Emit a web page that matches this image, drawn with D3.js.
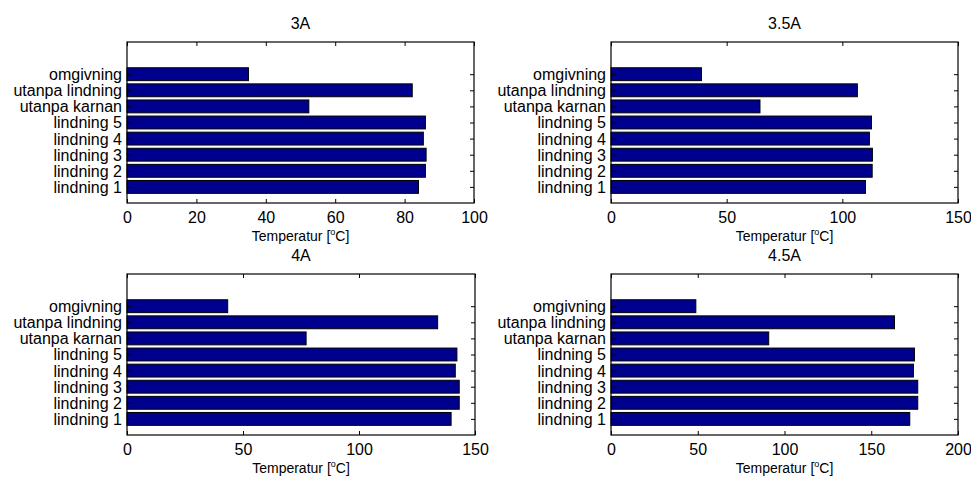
<!DOCTYPE html>
<html>
<head>
<meta charset="utf-8">
<script src="https://cdn.jsdelivr.net/npm/d3@7"></script>
<style>
  body { margin: 0; background: #fff; }
  svg { font-family: "Liberation Sans", Arial, Helvetica, sans-serif; }
</style>
</head>
<body>
<div id="chart"></div>
<script>
// categories (bottom to top) and temperatures
const categories = ["lindning 1", "lindning 2", "lindning 3", "lindning 4", "lindning 5",
                    "utanpa karnan", "utanpa lindning", "omgivning"];
const temp3A  = [84.0, 86.0, 86.2, 85.4, 86.0, 52.4, 82.2, 35.0];
const temp35A = [110.0, 112.9, 113.0, 111.7, 112.6, 64.4, 106.5, 39.1];
const temp4A  = [139.7, 143.2, 143.2, 141.5, 142.2, 77.2, 133.9, 43.4];
const temp45A = [172.2, 176.8, 176.8, 174.3, 174.9, 90.9, 163.4, 48.9];

const titles = ["3A", "3.5A", "4A", "4.5A"];
const xMax = [100, 150, 150, 200];
const xTicks = [[0, 20, 40, 60, 80, 100], [0, 50, 100, 150], [0, 50, 100, 150], [0, 50, 100, 150, 200]];
const series = [temp3A, temp35A, temp4A, temp45A];

// panel boxes
const panels = [
  {left: 127, right: 474, top: 42, bottom: 203},
  {left: 611, right: 958, top: 42, bottom: 203},
  {left: 127, right: 475, top: 274, bottom: 435},
  {left: 611, right: 958, top: 274, bottom: 435}
];

const svg = d3.select("#chart")
  .append("svg")
  .attr("width", 971)
  .attr("height", 479);

panels.forEach((p, k) => {
  const w = p.right - p.left;
  const h = p.bottom - p.top;
  const g = svg.append("g").attr("transform", `translate(${p.left},${p.top})`);

  const x = d3.scaleLinear().domain([0, xMax[k]]).range([0, w]);
  const y = d3.scaleLinear().domain([0, 10]).range([h, 0]);
  const barH = y(0) - y(0.8);

  const data = categories.map((c, i) => ({name: c, pos: i + 1, value: series[k][i]}));

  // bars
  g.selectAll("rect.bar")
    .data(data)
    .join("rect")
    .attr("class", "bar")
    .attr("x", x(0))
    .attr("y", d => y(d.pos) - barH / 2)
    .attr("width", d => x(d.value) - x(0))
    .attr("height", barH)
    .attr("fill", "#00008f")
    .attr("stroke", "#000")
    .attr("stroke-width", 1);

  // box
  g.append("rect")
    .attr("x", 0).attr("y", 0)
    .attr("width", w).attr("height", h)
    .attr("fill", "none")
    .attr("stroke", "#000")
    .attr("stroke-width", 1.2);

  const fontSize = "16px";

  // bottom axis with labels
  const xb = g.append("g")
    .attr("transform", `translate(0,${h})`)
    .call(d3.axisBottom(x).tickValues(xTicks[k]).tickSize(-4).tickSizeOuter(0).tickPadding(8.5));
  // top ticks only
  const xt = g.append("g")
    .call(d3.axisTop(x).tickValues(xTicks[k]).tickSize(-4).tickSizeOuter(0).tickFormat(""));
  // left axis with category names
  const yl = g.append("g")
    .call(d3.axisLeft(y).tickValues(data.map(d => d.pos)).tickSize(-4).tickSizeOuter(0).tickPadding(5)
      .tickFormat(v => categories[v - 1]));
  // right ticks only
  const yr = g.append("g")
    .attr("transform", `translate(${w},0)`)
    .call(d3.axisRight(y).tickValues(data.map(d => d.pos)).tickSize(-4).tickSizeOuter(0).tickFormat(""));

  [xb, xt, yl, yr].forEach(a => {
    a.select(".domain").remove();
    a.selectAll("line").attr("stroke", "#000");
    a.selectAll("text").attr("fill", "#000").attr("font-size", fontSize)
      .attr("font-family", "'Liberation Sans', Arial, Helvetica, sans-serif");
  });
  yl.selectAll("text").attr("dy", "0.34em");

  // title
  g.append("text")
    .attr("x", w / 2)
    .attr("y", -13)
    .attr("text-anchor", "middle")
    .attr("font-size", "16px")
    .text(titles[k]);

  // x label
  const xl = g.append("text")
    .attr("x", w / 2)
    .attr("y", h + 37.5)
    .attr("text-anchor", "middle")
    .attr("font-size", "14px");
  xl.append("tspan").text("Temperatur [");
  xl.append("tspan").attr("font-size", "9px").attr("dy", "-6").text("o");
  xl.append("tspan").attr("dy", "6").text("C]");
});
</script>
</body>
</html>
